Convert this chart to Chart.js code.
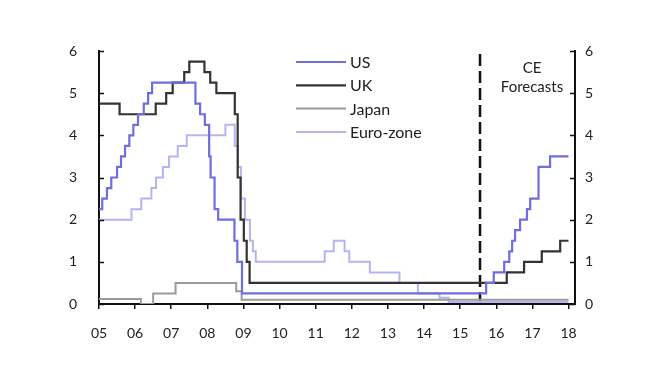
<!DOCTYPE html>
<html>
<head>
<meta charset="utf-8">
<script src="https://cdn.jsdelivr.net/npm/chart.js@4"></script>
<style>
  html, body { margin: 0; padding: 0; background: #fff; }
  #wrap { width: 662px; height: 375px; }
</style>
</head>
<body>
<div id="wrap"><canvas id="ratesChart" width="662" height="375"></canvas></div>
<script>
// x axis: years, tick labels shown as two digits
const yearTicks = [2005, 2006, 2007, 2008, 2009, 2010, 2011, 2012, 2013, 2014, 2015, 2016, 2017, 2018];
const rateTicks = [0, 1, 2, 3, 4, 5, 6];
const forecastStart = 2015.55;

// policy rates (%), each value holds from its date until the next date
const usDates = [2005.0, 2005.09, 2005.22, 2005.34, 2005.5, 2005.61, 2005.72, 2005.84, 2005.95, 2006.08, 2006.24, 2006.36, 2006.47,
  2007.67, 2007.8, 2007.93, 2008.05, 2008.09, 2008.2, 2008.3, 2008.75, 2008.83, 2008.96,
  2015.72, 2015.93, 2016.22, 2016.36, 2016.44, 2016.52, 2016.66, 2016.85, 2016.94, 2017.17, 2017.49, 2018.0];
const usRates = [2.25, 2.5, 2.75, 3.0, 3.25, 3.5, 3.75, 4.0, 4.25, 4.5, 4.75, 5.0, 5.25,
  4.75, 4.5, 4.25, 3.5, 3.0, 2.25, 2.0, 1.5, 1.0, 0.25,
  0.5, 0.75, 1.0, 1.25, 1.5, 1.75, 2.0, 2.25, 2.5, 3.25, 3.5, 3.5];

const ukDates = [2005.0, 2005.57, 2006.57, 2006.86, 2007.04, 2007.36, 2007.5, 2007.92, 2008.08, 2008.25, 2008.76, 2008.84, 2008.92, 2009.01, 2009.09, 2009.17,
  2016.29, 2016.77, 2017.26, 2017.77, 2018.0];
const ukRates = [4.75, 4.5, 4.75, 5.0, 5.25, 5.5, 5.75, 5.5, 5.25, 5.0, 4.5, 3.0, 2.0, 1.5, 1.0, 0.5,
  0.75, 1.0, 1.25, 1.5, 1.5];

const japanDates = [2005.0, 2006.16, 2006.5, 2007.12, 2008.8, 2008.95, 2018.0];
const japanRates = [0.12, 0.0, 0.25, 0.5, 0.3, 0.1, 0.1];

const euroDates = [2005.0, 2005.9, 2006.17, 2006.45, 2006.58, 2006.77, 2006.94, 2007.18, 2007.43, 2008.5, 2008.76, 2008.85, 2008.93, 2009.04, 2009.18, 2009.26, 2009.34,
  2011.25, 2011.5, 2011.8, 2011.93, 2012.5, 2013.32, 2013.83, 2014.43, 2014.68, 2018.0];
const euroRates = [2.0, 2.25, 2.5, 2.75, 3.0, 3.25, 3.5, 3.75, 4.0, 4.25, 3.75, 3.25, 2.5, 2.0, 1.5, 1.25, 1.0,
  1.25, 1.5, 1.25, 1.0, 0.75, 0.5, 0.25, 0.15, 0.05, 0.05];

const seriesNames = ['US', 'UK', 'Japan', 'Euro-zone'];
const seriesColors = ['#6e6ee0', '#333333', '#9a9a9a', '#b4b4f2'];
const seriesWidths = [2.2, 2.2, 2, 2];

const FONT = 'Lato, "Open Sans", sans-serif';

function toPoints(dates, rates) {
  return dates.map((d, i) => ({ x: d, y: rates[i] }));
}

const seriesData = [
  toPoints(usDates, usRates),
  toPoints(ukDates, ukRates),
  toPoints(japanDates, japanRates),
  toPoints(euroDates, euroRates)
];

const datasets = seriesNames.map((name, i) => ({
  label: name,
  data: seriesData[i],
  borderColor: seriesColors[i],
  borderWidth: seriesWidths[i],
  stepped: true,
  pointRadius: 0,
  fill: false
}));

// forecast divider
datasets.push({
  label: 'forecast',
  data: [{ x: forecastStart, y: 0 }, { x: forecastStart, y: 6 }],
  borderColor: '#111',
  borderWidth: 2.5,
  borderDash: [12, 5],
  pointRadius: 0,
  fill: false
});

// inward tick marks on both value axes
const inwardTicks = {
  id: 'inwardTicks',
  afterDraw(chart) {
    const ctx = chart.ctx;
    ctx.save();
    ctx.strokeStyle = '#111';
    ctx.lineWidth = 1.5;
    ['y', 'y2'].forEach(id => {
      const s = chart.scales[id];
      const x = id === 'y' ? chart.chartArea.left : chart.chartArea.right;
      const dir = id === 'y' ? 1 : -1;
      rateTicks.forEach(v => {
        const py = Math.round(s.getPixelForValue(v)) + 0.5;
        ctx.beginPath();
        ctx.moveTo(x, py);
        ctx.lineTo(x + dir * 5, py);
        ctx.stroke();
      });
    });
    ctx.restore();
  }
};

// legend and forecast note
const labels = {
  id: 'labels',
  afterDraw(chart) {
    const ctx = chart.ctx;
    ctx.save();
    ctx.font = '16px ' + FONT;
    ctx.textBaseline = 'middle';
    seriesNames.forEach((name, i) => {
      const y = 62 + i * 23.3;
      ctx.strokeStyle = seriesColors[i];
      ctx.lineWidth = seriesWidths[i];
      ctx.beginPath();
      ctx.moveTo(296, y);
      ctx.lineTo(346, y);
      ctx.stroke();
      ctx.fillStyle = '#222';
      ctx.textAlign = 'left';
      ctx.fillText(name, 350, y + 1);
    });
    ctx.textAlign = 'center';
    ctx.fillStyle = '#222';
    ctx.font = '15px ' + FONT;
    ctx.fillText('CE', 532, 68);
    ctx.fillText('Forecasts', 532, 87);
    ctx.restore();
  }
};

const tickFont = { family: FONT, size: 14 };
const axisColor = '#111';

new Chart(document.getElementById('ratesChart'), {
  type: 'line',
  data: { datasets },
  options: {
    responsive: false,
    animation: false,
    devicePixelRatio: 1,
    layout: { padding: { top: 51, left: 0, right: 0, bottom: 0 } },
    plugins: { legend: { display: false }, tooltip: { enabled: false } },
    scales: {
      x: {
        type: 'linear',
        min: 2005,
        max: 2018.18,
        afterBuildTicks: s => { s.ticks = yearTicks.map(v => ({ value: v })); },
        afterFit: s => { s.height = 71; },
        ticks: {
          callback: v => String(v).slice(2),
          font: tickFont,
          color: '#222',
          padding: 16,
          maxRotation: 0,
          autoSkip: false
        },
        grid: { drawOnChartArea: false, tickLength: 5, color: axisColor, lineWidth: 1.5 },
        border: { color: axisColor, width: 2 }
      },
      y: {
        position: 'left',
        min: 0,
        max: 6,
        afterBuildTicks: s => { s.ticks = rateTicks.map(v => ({ value: v })); },
        afterFit: s => { s.width = 99; },
        ticks: { font: tickFont, color: '#222', padding: 22 },
        grid: { drawOnChartArea: false, drawTicks: false },
        border: { color: axisColor, width: 2 }
      },
      y2: {
        position: 'right',
        min: 0,
        max: 6,
        afterBuildTicks: s => { s.ticks = rateTicks.map(v => ({ value: v })); },
        afterFit: s => { s.width = 87; },
        ticks: { font: tickFont, color: '#222', padding: 10 },
        grid: { drawOnChartArea: false, drawTicks: false },
        border: { color: axisColor, width: 2 }
      }
    }
  },
  plugins: [inwardTicks, labels]
});
</script>
</body>
</html>
